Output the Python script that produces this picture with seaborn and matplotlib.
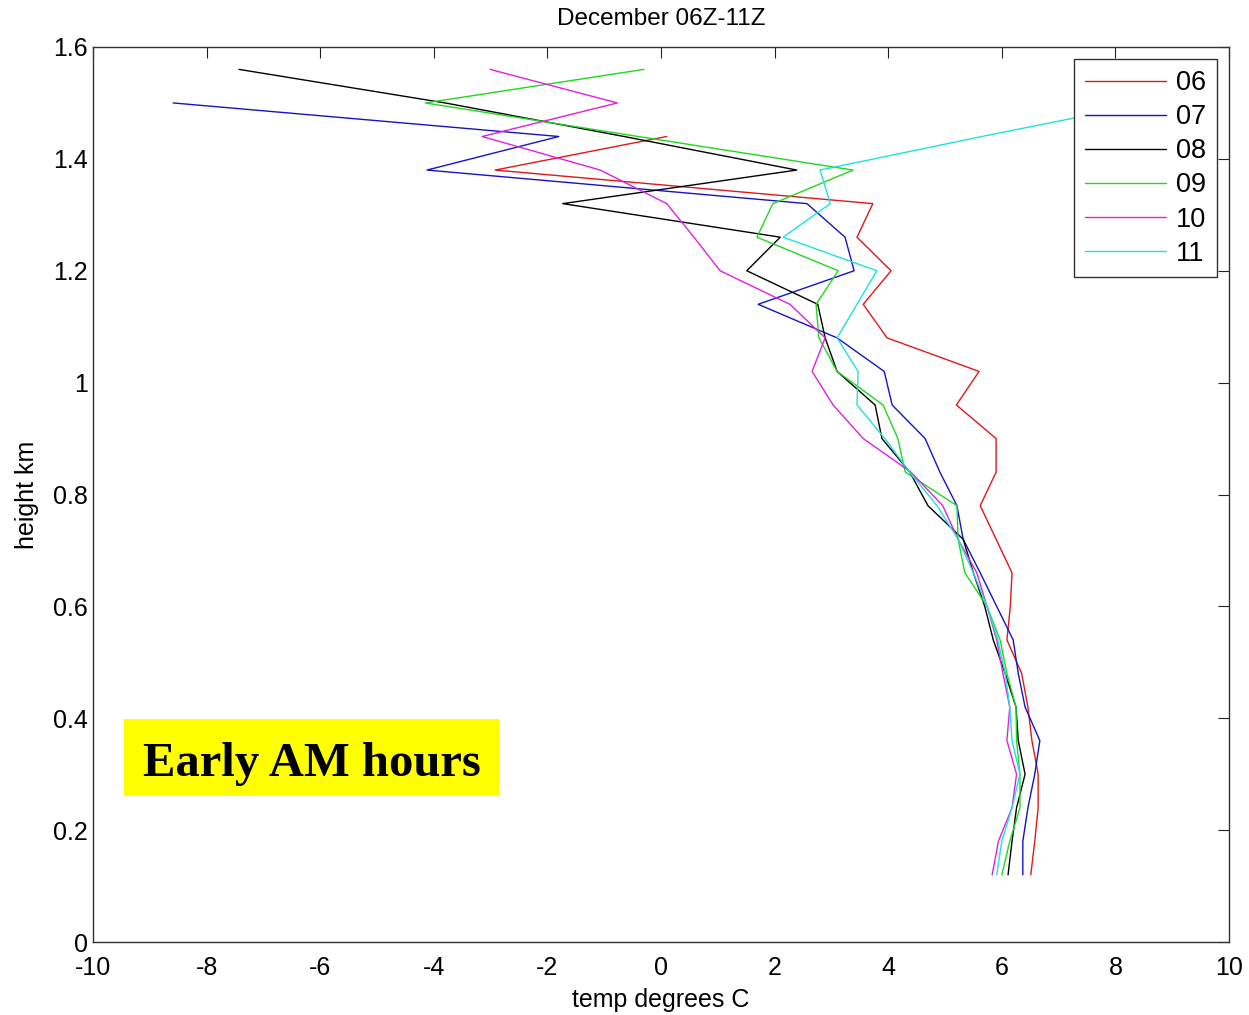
import numpy as np
import pandas as pd
import matplotlib
matplotlib.use("Agg")
import matplotlib.pyplot as plt
import seaborn as sns
from matplotlib.patches import Rectangle
from matplotlib.ticker import FormatStrFormatter

sns.set_style("white")
plt.rcParams['font.family'] = ['Liberation Sans', 'DejaVu Sans']
plt.rcParams['axes.unicode_minus'] = False
plt.rcParams['text.color'] = 'black'
plt.rcParams['axes.labelcolor'] = 'black'

# ===============================
# Data (height km, temp C)
# ===============================

heights = [1.56, 1.50, 1.44, 1.38, 1.32, 1.26, 1.20, 1.14, 1.08, 1.02,
           0.96, 0.90, 0.84, 0.78, 0.72, 0.66, 0.60, 0.54, 0.48, 0.42,
           0.36, 0.30, 0.24, 0.18, 0.12]

hours = ["06", "07", "08", "09", "10", "11"]

temp_06 = [np.nan, np.nan, 0.1, -2.92, 3.73, 3.45, 4.05, 3.56, 3.98, 5.6,
           5.2, 5.9, 5.9, 5.62, 5.9, 6.18, 6.15, 6.09, 6.35, 6.46,
           6.53, 6.64, 6.64, 6.58, 6.51]
temp_07 = [np.nan, -8.59, -1.8, -4.12, 2.57, 3.24, 3.4, 1.71, 3.1, 3.93,
           4.07, 4.65, 4.91, 5.21, 5.32, 5.62, 5.91, 6.2, 6.29, 6.41,
           6.67, 6.58, 6.46, 6.37, 6.37]
temp_08 = [-7.43, -3.8, -0.65, 2.39, -1.73, 2.1, 1.51, 2.76, 2.89, 3.1,
           3.77, 3.89, 4.38, 4.7, 5.32, 5.5, 5.7, 5.85, 6.06, 6.25,
           6.29, 6.41, 6.26, 6.18, 6.11]
temp_09 = [-0.3, -4.15, -0.4, 3.38, 1.97, 1.69, 3.12, 2.73, 2.78, 3.1,
           3.91, 4.17, 4.3, 5.21, 5.23, 5.35, 5.74, 5.97, 6.09, 6.25,
           6.26, 6.32, 6.32, 6.14, 6.0]
temp_10 = [-3.01, -0.77, -3.15, -1.07, 0.1, 0.58, 1.04, 2.27, 2.89, 2.66,
           3.03, 3.56, 4.4, 4.96, 5.23, 5.56, 5.74, 5.91, 6.02, 6.14,
           6.09, 6.26, 6.18, 5.94, 5.83]
temp_11 = [np.nan, 8.6, 5.65, 2.8, 2.98, 2.15, 3.8, 3.45, 3.1, 3.47,
           3.45, 3.94, 4.38, 4.86, 5.23, 5.5, 5.74, 5.93, 6.06, 6.14,
           6.18, 6.32, 6.18, 6.0, 5.91]

all_temps = [temp_06, temp_07, temp_08, temp_09, temp_10, temp_11]

rows = []
for hr, temps in zip(hours, all_temps):
    for h, t in zip(heights, temps):
        rows.append({"hour": hr, "height": h, "temp": t})
df = pd.DataFrame(rows).dropna()

colors = {"06": "#e01818", "07": "#1414c8", "08": "#000000",
          "09": "#20d820", "10": "#e020e0", "11": "#20e0e0"}

# ===============================
# Plot
# ===============================

fig = plt.figure(figsize=(12.49, 10.15), dpi=100)
ax = fig.add_axes([93 / 1249, 1 - 942 / 1015, (1229 - 93) / 1249, (942 - 47) / 1015])

sns.lineplot(
    data=df, x="temp", y="height", hue="hour", hue_order=hours,
    palette=colors, sort=False, estimator=None, orient="y",
    linewidth=1.0, ax=ax, legend=True
)

ax.set_xlim(-10, 10)
ax.set_ylim(0, 1.6)
ax.set_xticks(np.arange(-10, 11, 2))
ax.set_yticks(np.arange(0, 1.61, 0.2))
ax.yaxis.set_major_formatter(FormatStrFormatter('%g'))

ax.tick_params(direction="in", length=8, width=0.8, labelsize=18,
               top=True, right=True, colors="#222222", labelcolor="black")
ax.tick_params(axis="x", pad=10)
for sp in ax.spines.values():
    sp.set_color("#333333")
    sp.set_linewidth(1.0)

ax.set_title("December 06Z-11Z", fontsize=17.5, pad=16)
ax.set_xlabel("temp degrees C", fontsize=18, labelpad=6)
ax.set_ylabel("height km", fontsize=18, labelpad=10)

handles, labels = ax.get_legend_handles_labels()
leg = ax.legend(handles, labels, loc="upper right", fontsize=19.5,
                frameon=True, fancybox=False, framealpha=1, edgecolor="#333333",
                handlelength=3.0, labelspacing=0.3, borderaxespad=0.45,
                handletextpad=0.35, borderpad=0.4)
leg.get_frame().set_linewidth(1.0)
for line in leg.get_lines():
    line.set_linewidth(1.0)

# annotation box
ax.add_patch(Rectangle((-9.45, 0.261), 6.6, 0.138, facecolor="yellow",
                       edgecolor="none", zorder=3))
ax.text(-6.15, 0.318, "Early AM hours", fontsize=35, fontweight="bold",
        family=["Liberation Serif", "DejaVu Serif"], ha="center", va="center",
        color="black", zorder=4)

plt.savefig("out.png", dpi=100)
